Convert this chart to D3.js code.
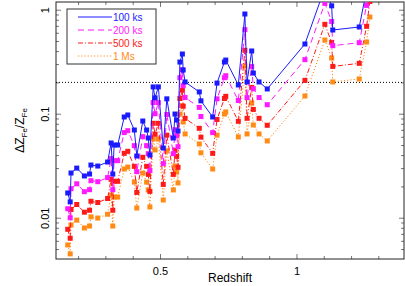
<!DOCTYPE html>
<html>
<head>
<meta charset="utf-8">
<script src="https://cdn.jsdelivr.net/npm/d3@7"></script>
<style>
  body { margin: 0; background: #fff; }
  svg { display: block; font-family: "Liberation Sans", Arial, sans-serif; }
</style>
</head>
<body>
<div id="chart"></div>
<script>
// cluster redshifts (x) and fractional Fe abundance error per exposure time
const redshift = [0.162,0.171,0.174,0.195,0.223,0.242,0.247,0.272,0.308,0.321,0.327,0.332,0.345,0.369,0.382,0.406,0.415,0.437,0.451,0.457,0.463,0.475,0.482,0.494,0.512,0.525,0.549,0.555,0.561,0.566,0.573,0.582,0.585,0.592,0.644,0.650,0.693,0.709,0.736,0.741,0.787,0.811,0.819,0.836,0.842,0.863,0.893,1.031,1.104,1.129,1.133,1.230,1.257,1.269];
const err100ks = [0.0173,0.0142,0.0269,0.0300,0.0252,0.0263,0.0321,0.0314,0.0343,0.0523,0.0263,0.0500,0.0500,0.0930,0.0972,0.0697,0.0392,0.0851,0.0697,0.0584,0.0401,0.181,0.142,0.181,0.0468,0.139,0.0584,0.0993,0.0870,0.0682,0.314,0.375,0.263,0.202,0.162,0.133,0.0930,0.197,0.314,0.328,0.189,0.909,0.202,0.401,0.246,0.202,0.173,0.468,1.62,1.09,0.638,0.682,1.55,2.69];
const err200ks = [0.0122,0.0100,0.0190,0.0212,0.0178,0.0186,0.0227,0.0222,0.0243,0.0370,0.0186,0.0354,0.0354,0.0658,0.0687,0.0493,0.0277,0.0602,0.0493,0.0413,0.0284,0.128,0.100,0.128,0.0331,0.0983,0.0413,0.0702,0.0615,0.0482,0.222,0.265,0.186,0.143,0.115,0.0940,0.0658,0.139,0.222,0.232,0.134,0.643,0.143,0.284,0.174,0.143,0.122,0.331,1.15,0.771,0.451,0.482,1.10,1.90];
const err500ks = [0.00774,0.00635,0.0120,0.0134,0.0113,0.0118,0.0144,0.0140,0.0153,0.0234,0.0118,0.0224,0.0224,0.0416,0.0435,0.0312,0.0175,0.0381,0.0312,0.0261,0.0179,0.0809,0.0635,0.0809,0.0209,0.0622,0.0261,0.0444,0.0389,0.0305,0.140,0.168,0.118,0.0903,0.0724,0.0595,0.0416,0.0881,0.140,0.147,0.0845,0.407,0.0903,0.179,0.110,0.0903,0.0774,0.209,0.723,0.485,0.285,0.305,0.692,1.20];
const err1Ms = [0.00547,0.00449,0.00851,0.00949,0.00797,0.00832,0.0102,0.00993,0.0108,0.0165,0.00832,0.0158,0.0158,0.0294,0.0307,0.0220,0.0124,0.0269,0.0220,0.0185,0.0127,0.0572,0.0449,0.0572,0.0148,0.0440,0.0185,0.0314,0.0275,0.0216,0.0993,0.119,0.0832,0.0639,0.0512,0.0421,0.0294,0.0623,0.0993,0.104,0.0598,0.288,0.0639,0.127,0.0779,0.0639,0.0547,0.148,0.511,0.343,0.202,0.216,0.489,0.851];
const seriesNames = ["100 ks", "200 ks", "500 ks", "1 Ms"];

// tick labels
const xMajorTicks = [0.5, 1];
const xMinorTicks = [0.2, 0.3, 0.4, 0.6, 0.7, 0.8, 0.9, 1.1, 1.2, 1.3];
const yMajorTicks = [0.01, 0.1, 1];
const yMinorTicks = [0.005, 0.006, 0.007, 0.008, 0.009, 0.02, 0.03, 0.04, 0.05, 0.06, 0.07, 0.08, 0.09, 0.2, 0.3, 0.4, 0.5, 0.6, 0.7, 0.8, 0.9];
const refLevel = 0.2;

const allSeries = [err100ks, err200ks, err500ks, err1Ms];
const colors = ["#1a1aff", "#ff19ff", "#ff1a1a", "#ff8a14"];
const dashes = [null, "6,4", "5,2,1,2", "1.2,2"];

const width = 405, height = 286;
const margin = {top: 2, right: 1, bottom: 27, left: 56};

const svg = d3.select("#chart").append("svg")
  .attr("width", width)
  .attr("height", height);

const x = d3.scaleLinear().domain([0.119, 1.394]).range([margin.left, width - margin.right]);
const y = d3.scaleLog().domain([0.00401, 1.186]).range([height - margin.bottom, margin.top]);

svg.append("clipPath").attr("id", "plotclip")
  .append("rect")
  .attr("x", margin.left).attr("y", margin.top)
  .attr("width", width - margin.left - margin.right)
  .attr("height", height - margin.top - margin.bottom);

// axes, ticks pointing inwards on all four sides
function addAxis(axis, tx, ty) {
  const g = svg.append("g").attr("transform", "translate(" + tx + "," + ty + ")").call(axis);
  g.select(".domain").remove();
  g.selectAll(".tick line").attr("stroke", "#777");
  return g;
}
const bottomY = height - margin.bottom, rightX = width - margin.right;

addAxis(d3.axisBottom(x).tickValues(xMinorTicks).tickSize(-3).tickFormat(""), 0, bottomY);
addAxis(d3.axisTop(x).tickValues(xMinorTicks).tickSize(-3).tickFormat(""), 0, margin.top);
const xb = addAxis(d3.axisBottom(x).tickValues(xMajorTicks).tickSize(-5).tickPadding(8).tickFormat(d3.format("")), 0, bottomY);
xb.selectAll("text").attr("font-size", 11).attr("fill", "#000").attr("font-family", "Liberation Sans, Arial, sans-serif");
addAxis(d3.axisTop(x).tickValues(xMajorTicks).tickSize(-5).tickFormat(""), 0, margin.top);

addAxis(d3.axisLeft(y).tickValues(yMinorTicks).tickSize(-3).tickFormat(""), margin.left, 0);
addAxis(d3.axisRight(y).tickValues(yMinorTicks).tickSize(-3).tickFormat(""), rightX, 0);
addAxis(d3.axisRight(y).tickValues(yMajorTicks).tickSize(-5).tickFormat(""), rightX, 0);
const yl = addAxis(d3.axisLeft(y).tickValues(yMajorTicks).tickSize(-5).tickPadding(0).tickFormat(d3.format("")), margin.left, 0);
yl.selectAll("text")
  .attr("font-size", 11).attr("fill", "#000")
  .attr("font-family", "Liberation Sans, Arial, sans-serif")
  .attr("text-anchor", "middle")
  .attr("dy", 0)
  .attr("x", 0)
  .attr("transform", "translate(-7,0) rotate(-90)");

// frame
svg.append("rect")
  .attr("x", margin.left).attr("y", margin.top)
  .attr("width", rightX - margin.left)
  .attr("height", bottomY - margin.top)
  .attr("fill", "none").attr("stroke", "#222").attr("stroke-width", 1);

// reference level
svg.append("line")
  .attr("x1", margin.left).attr("x2", rightX)
  .attr("y1", y(refLevel)).attr("y2", y(refLevel))
  .attr("stroke", "#000").attr("stroke-width", 1).attr("stroke-dasharray", "1,2");

// series, faintest drawn first
const plot = svg.append("g").attr("clip-path", "url(#plotclip)");
const line = d3.line().x(d => x(d[0])).y(d => y(d[1]));
for (let s = allSeries.length - 1; s >= 0; s--) {
  const pts = redshift.map((z, i) => [z, allSeries[s][i]]);
  plot.append("path")
    .attr("d", line(pts))
    .attr("fill", "none")
    .attr("stroke", colors[s])
    .attr("stroke-width", 1)
    .attr("stroke-dasharray", dashes[s]);
  plot.selectAll(null)
    .data(pts)
    .enter()
    .append("rect")
    .attr("x", d => x(d[0]) - 2.5)
    .attr("y", d => y(d[1]) - 2.5)
    .attr("width", 5)
    .attr("height", 5)
    .attr("fill", colors[s]);
}

// legend
const legend = svg.append("g");
legend.append("rect")
  .attr("x", 67).attr("y", 9).attr("width", 89).attr("height", 55)
  .attr("fill", "#fff").attr("stroke", "#333").attr("stroke-width", 1);
seriesNames.forEach((name, i) => {
  const ly = 17 + i * 13;
  legend.append("line")
    .attr("x1", 78).attr("x2", 112).attr("y1", ly).attr("y2", ly)
    .attr("stroke", colors[i]).attr("stroke-width", 1)
    .attr("stroke-dasharray", dashes[i]);
  legend.append("text")
    .attr("x", 113).attr("y", ly).attr("dy", "0.35em")
    .attr("font-size", 10).attr("fill", colors[i])
    .text(name);
});

// axis titles
svg.append("text")
  .attr("x", (margin.left + rightX) / 2).attr("y", 282)
  .attr("text-anchor", "middle").attr("font-size", 12)
  .text("Redshift");

const ylab = svg.append("text")
  .attr("transform", "translate(24," + ((margin.top + bottomY) / 2) + ") rotate(-90)")
  .attr("text-anchor", "middle").attr("font-size", 12);
ylab.append("tspan").text("\u0394Z");
ylab.append("tspan").attr("font-size", 8).attr("dy", 3).text("Fe");
ylab.append("tspan").attr("dy", -3).text("/Z");
ylab.append("tspan").attr("font-size", 8).attr("dy", 3).text("Fe");
</script>
</body>
</html>
